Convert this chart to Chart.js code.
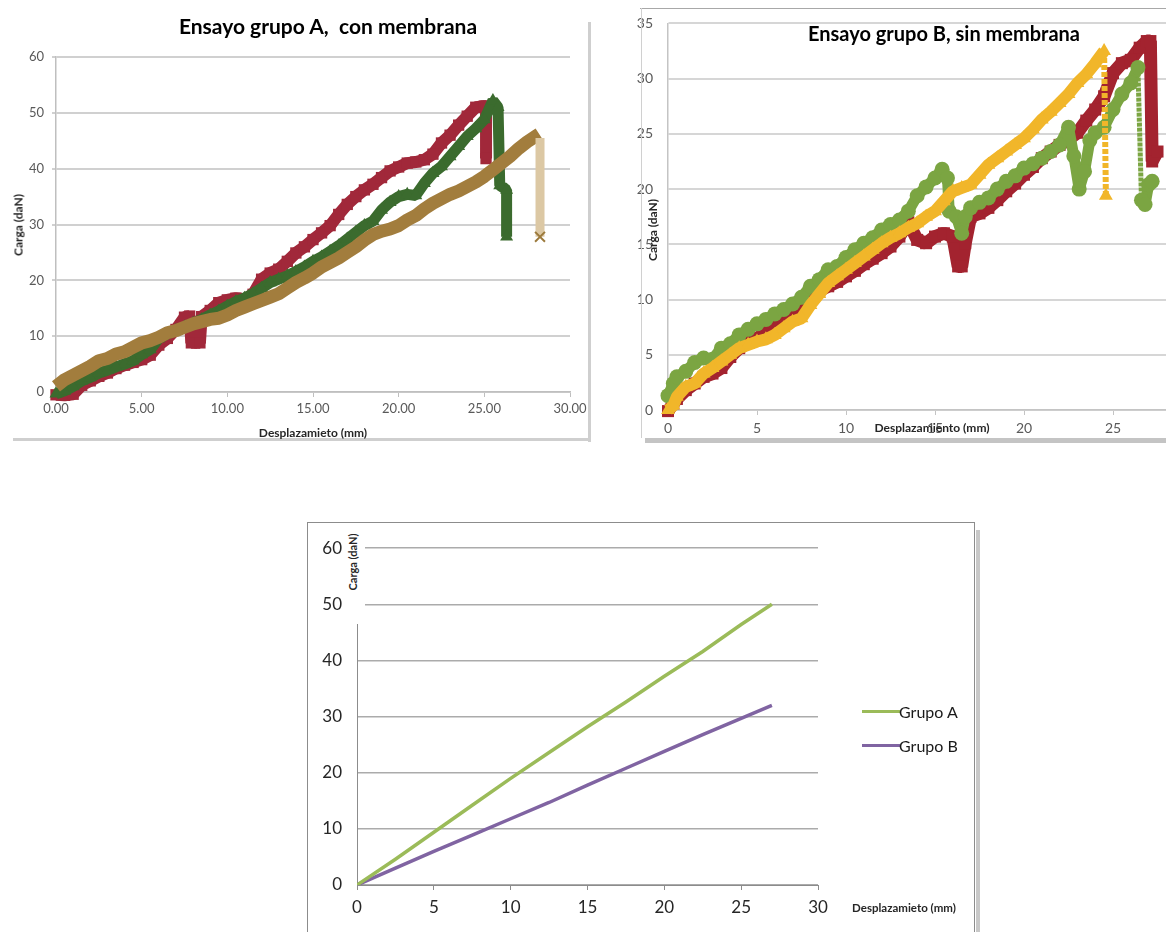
<!DOCTYPE html>
<html lang="es">
<head>
<meta charset="utf-8">
<title>Ensayos grupo A y B</title>
<script src="https://cdn.jsdelivr.net/npm/chart.js@4.4.1/dist/chart.umd.min.js"></script>
<style>
  body { margin: 0; width: 1166px; height: 932px; overflow: hidden; background: #fff; position: relative; font-family: Lato, "Open Sans", sans-serif; }
  .abs { position: absolute; }
  .txt { position: absolute; white-space: pre; transform: translate(-50%, -50%); color: #000; }
  .ltxt { position: absolute; white-space: pre; transform: translate(0, -50%); color: #1a1a1a; font-size: 16px; }
  .vtxt { position: absolute; white-space: pre; transform: translate(-50%, -50%) rotate(-90deg); font-weight: bold; font-size: 12px; color: #262626; }
  .title { font-weight: bold; font-size: 21px; }
  .axt { font-weight: bold; font-size: 12px; color: #262626; }
</style>
</head>
<body>

<!-- Ensayo grupo A -->
<div class="abs" style="left:0;top:0;width:600px;height:450px"><canvas id="chartA"></canvas></div>
<div class="abs" style="left:588px;top:22px;width:3px;height:420px;background:#cfcfcf"></div>
<div class="abs" style="left:13px;top:438px;width:578px;height:3px;background:#cfcfcf"></div>
<div class="txt title" style="left:328px;top:25px">Ensayo grupo A,  con membrana</div>
<div class="txt axt" style="left:313px;top:432px">Desplazamieto (mm)</div>
<div class="vtxt" style="left:18px;top:225px">Carga (daN)</div>

<!-- Ensayo grupo B -->
<div class="abs" style="left:620px;top:0;width:600px;height:450px"><canvas id="chartB"></canvas></div>
<div class="abs" style="left:640px;top:8px;width:526px;height:1px;background:#a8a8a8"></div>
<div class="abs" style="left:641px;top:8px;width:1px;height:430px;background:#d0d0d0"></div>
<div class="abs" style="left:645px;top:438px;width:521px;height:5px;background:#c4c4c4"></div>
<div class="txt title" style="left:944px;top:33px;font-size:20px">Ensayo grupo B, sin membrana</div>
<div class="txt axt" style="left:932px;top:427px">Desplazamiento (mm)</div>
<div class="vtxt" style="left:652px;top:230px">Carga (daN)</div>

<!-- Comparacion grupo A / grupo B -->
<div class="abs" style="left:307px;top:522px;width:668px;height:420px;border:1px solid #8c8c8c;box-sizing:border-box"></div>
<div class="abs" style="left:976px;top:530px;width:4px;height:402px;background:#c8c8c8"></div>
<div class="abs" style="left:308px;top:523px;width:666px;height:409px"><canvas id="chartC"></canvas></div>
<div class="abs" style="left:342px;top:524px;width:23px;height:100px;background:#fff"></div>
<div class="vtxt" style="left:352px;top:562px;font-size:11px">Carga (daN)</div>
<div class="txt axt" style="left:904px;top:907px;font-size:11.5px">Desplazamieto (mm)</div>
<div class="abs" style="left:862px;top:710px;width:38px;height:3px;background:#9bbb59"></div>
<div class="ltxt" style="left:899px;top:711px">Grupo A</div>
<div class="abs" style="left:862px;top:744px;width:38px;height:3px;background:#8064a2"></div>
<div class="ltxt" style="left:899px;top:745px">Grupo B</div>

<script>
// ---- Ensayo grupo A, con membrana ----
const redAX = [0, 0.5, 1.0, 1.5, 2.0, 2.5, 3.0, 3.5, 4.0, 4.5, 5.0, 5.5, 6.0, 6.5, 7.0, 7.5, 7.8, 7.9, 8.4, 8.5,
  9.0, 9.5, 10.0, 10.5, 11.0, 11.5, 12.0, 12.5, 13.0, 13.5, 14.0, 14.5, 15.0, 15.5, 16.0, 16.5, 17.0, 17.5, 18.0, 18.5,
  19.0, 19.5, 20.0, 20.5, 21.0, 21.5, 22.0, 22.5, 23.0, 23.5, 24.0, 24.5, 25.0, 25.1, 25.1];
const redAY = [-0.5, -0.6, -0.4, 1.2, 2.0, 2.8, 3.4, 4.2, 4.8, 5.3, 5.8, 6.6, 8.4, 9.6, 11.2, 13.4, 13.6, 8.8, 8.8, 13.5,
  14.6, 16.0, 16.5, 16.8, 16.6, 17.5, 20.2, 21.3, 22.0, 23.4, 24.9, 26.0, 27.3, 28.5, 29.8, 31.8, 33.6, 35.0, 36.2, 37.2,
  38.4, 39.6, 40.3, 41.0, 41.2, 41.6, 42.6, 44.6, 46.0, 47.8, 49.4, 51.0, 51.2, 51.2, 41.8];

const greenAX = [0, 0.5, 1.0, 1.5, 2.0, 2.5, 3.0, 3.5, 4.0, 4.5, 5.0, 5.5, 6.0, 6.5, 7.0, 7.5, 8.0, 8.5, 9.0, 9.5,
  10.0, 10.5, 11.0, 11.5, 12.0, 12.5, 13.0, 13.5, 14.0, 14.5, 15.0, 15.5, 16.0, 16.5, 17.0, 17.5, 18.0, 18.5, 19.0, 19.5,
  20.0, 20.5, 21.0, 21.5, 22.0, 22.5, 23.0, 23.5, 24.0, 24.5, 25.0, 25.5, 25.8, 25.9, 26.3, 26.3];
const greenAY = [-0.3, 0.2, 1.0, 2.0, 2.6, 3.4, 3.9, 4.5, 5.0, 5.6, 6.7, 7.6, 9.6, 10.4, 11.0, 11.7, 12.3, 13.0, 13.8, 14.5,
  15.4, 16.2, 16.8, 17.6, 18.6, 19.6, 20.2, 20.8, 21.6, 22.4, 23.4, 24.2, 25.2, 26.2, 27.4, 28.6, 29.8, 30.6, 32.6, 34.0,
  35.0, 35.4, 35.2, 37.4, 39.2, 40.4, 42.2, 44.0, 45.8, 47.2, 48.8, 52.2, 51.0, 37.0, 36.2, 27.8];

const brownAX = [0, 0.5, 1.0, 1.5, 2.0, 2.5, 3.0, 3.5, 4.0, 4.5, 5.0, 5.5, 6.0, 6.5, 7.0, 7.5, 8.0, 8.5, 9.0, 9.5,
  10.0, 10.5, 11.0, 11.5, 12.0, 12.5, 13.0, 13.5, 14.0, 14.5, 15.0, 15.5, 16.0, 16.5, 17.0, 17.5, 18.0, 18.5, 19.0, 19.5,
  20.0, 20.5, 21.0, 21.5, 22.0, 22.5, 23.0, 23.5, 24.0, 24.5, 25.0, 25.5, 26.0, 26.5, 27.0, 27.5, 28.0, 28.2];
const brownAY = [1.0, 2.2, 3.0, 3.8, 4.6, 5.6, 6.0, 6.8, 7.2, 8.0, 8.8, 9.2, 9.8, 10.6, 11.0, 11.6, 12.2, 12.6, 13.0, 13.2,
  13.8, 14.6, 15.2, 15.8, 16.4, 17.0, 17.6, 18.6, 19.6, 20.4, 21.3, 22.4, 23.2, 24.0, 25.0, 26.0, 27.2, 28.2, 28.8, 29.2,
  29.8, 30.8, 31.6, 32.8, 33.8, 34.6, 35.4, 36.0, 36.8, 37.6, 38.6, 39.8, 41.0, 42.2, 43.6, 44.8, 45.8, 46.2];
const brownDropX = [28.25, 28.25];
const brownDropY = [45.5, 27.8];

// ---- Ensayo grupo B, sin membrana ----
const greenBX = [0, 0.3, 0.5, 1.0, 1.5, 2.0, 2.5, 3.0, 3.5, 4.0, 4.5, 5.0, 5.5, 6.0, 6.5, 7.0, 7.5, 8.0, 8.5, 9.0,
  9.5, 10.0, 10.5, 11.0, 11.5, 12.0, 12.5, 13.0, 13.5, 14.0, 14.5, 15.0, 15.4, 15.7, 15.8, 16.2, 16.5, 16.7, 17.0, 17.5,
  18.0, 18.5, 19.0, 19.5, 20.0, 20.5, 21.0, 21.5, 22.0, 22.5, 22.8, 23.1, 23.4, 23.7, 24.0, 24.5, 25.0, 25.5, 26.0, 26.4,
  26.6, 26.8, 27.0, 27.2];
const greenBY = [1.3, 2.4, 3.0, 3.5, 4.3, 4.7, 4.6, 5.6, 6.0, 6.8, 7.3, 7.8, 8.2, 8.7, 9.1, 9.6, 10.2, 11.2, 11.8, 12.7,
  13.0, 13.8, 14.5, 15.1, 15.6, 16.3, 16.8, 17.2, 18.0, 19.4, 20.2, 21.0, 21.8, 21.0, 18.0, 17.5, 16.0, 17.5, 18.3, 18.8,
  19.2, 20.0, 20.7, 21.2, 21.9, 22.3, 22.8, 23.4, 24.0, 25.6, 23.0, 20.0, 21.6, 24.4, 25.1, 25.6, 27.2, 28.6, 29.6, 31.0,
  19.0, 18.6, 20.4, 20.7];

const yellowBX = [0, 0.3, 0.5, 1.0, 1.5, 2.0, 2.5, 3.0, 3.5, 4.0, 4.5, 5.0, 5.5, 6.0, 6.5, 7.0, 7.5, 8.0, 8.5, 9.0,
  9.5, 10.0, 10.5, 11.0, 11.5, 12.0, 12.5, 13.0, 13.5, 14.0, 14.5, 15.0, 15.5, 16.0, 16.5, 17.0, 17.5, 18.0, 18.5, 19.0,
  19.5, 20.0, 20.5, 21.0, 21.5, 22.0, 22.5, 23.0, 23.5, 24.0, 24.5, 24.6];
const yellowBY = [0.0, 0.4, 1.2, 2.1, 2.4, 3.3, 3.8, 4.4, 5.0, 5.6, 5.9, 6.2, 6.4, 6.8, 7.4, 8.0, 8.3, 9.5, 10.5, 11.5,
  12.1, 12.7, 13.3, 13.9, 14.5, 15.1, 15.6, 16.0, 16.5, 16.9, 17.5, 18.0, 18.9, 19.8, 20.1, 20.4, 21.3, 22.2, 22.8, 23.4,
  24.0, 24.6, 25.4, 26.3, 27.0, 27.8, 28.6, 29.6, 30.4, 31.4, 32.5, 19.4];

const redBX = [0, 0.3, 0.5, 1.0, 1.5, 2.0, 2.5, 3.0, 3.5, 4.0, 4.5, 5.0, 5.5, 6.0, 6.5, 7.0, 7.5, 8.0, 8.5, 9.0,
  9.5, 10.0, 10.5, 11.0, 11.5, 12.0, 12.5, 13.0, 13.5, 14.0, 14.5, 15.0, 15.5, 16.0, 16.3, 16.5, 16.7, 17.0, 17.5, 18.0,
  18.5, 19.0, 19.5, 20.0, 20.5, 21.0, 21.5, 22.0, 22.5, 23.0, 23.5, 24.0, 24.5, 25.0, 25.5, 26.0, 26.5, 26.9, 27.1, 27.2,
  27.5];
const redBY = [-0.1, 0.6, 1.0, 1.8, 2.4, 3.0, 3.3, 3.8, 4.8, 5.6, 6.1, 6.5, 7.0, 7.5, 8.1, 8.7, 9.4, 10.4, 10.8, 11.2,
  11.6, 12.1, 12.6, 13.2, 13.7, 14.2, 14.8, 15.7, 17.0, 15.4, 15.1, 15.7, 16.0, 15.7, 13.0, 13.0, 15.1, 17.5, 17.8, 18.3,
  19.0, 19.8, 20.5, 21.3, 22.0, 22.8, 23.4, 24.0, 24.5, 25.1, 26.2, 27.2, 28.4, 30.5, 31.4, 31.7, 32.8, 33.4, 33.4, 22.5,
  23.4];

// ---- Comparacion (rectas medias) ----
const grupoX = [0, 2.5, 5, 7.5, 10, 12.5, 15, 17.5, 20, 22.5, 25, 27];
const grupoAY = [0, 4.6, 9.4, 14.2, 19.0, 23.6, 28.2, 32.6, 37.2, 41.6, 46.4, 50.0];
const grupoBY = [0, 3.0, 6.0, 8.9, 11.8, 14.7, 17.8, 20.8, 23.8, 26.8, 29.7, 32.0];

function toPoints(xs, ys) {
    return xs.map((x, i) => ({ x: x, y: ys[i] }));
}

// thick band made of markers, like the Excel scatter series
function band(label, xs, ys, color, style, width) {
    return {
        label: label,
        data: toPoints(xs, ys),
        showLine: true,
        borderColor: color,
        backgroundColor: color,
        borderWidth: width,
        borderJoinStyle: 'bevel',
        pointStyle: style,
        pointRadius: width / 2 + 2,
        pointBorderWidth: 0,
        clip: false
    };
}

// the failure drops of group B are drawn thinner and broken, as in the original
function thinDrop(width, dash) {
    return {
        borderWidth: ctx => (ctx.p1.parsed.y < ctx.p0.parsed.y - 6 ? width : undefined),
        borderDash: ctx => (ctx.p1.parsed.y < ctx.p0.parsed.y - 6 ? dash : undefined)
    };
}

const tickFont = (size) => ({ family: 'Lato', size: size });

// Grupo A
new Chart(document.getElementById('chartA'), {
    type: 'scatter',
    data: {
        datasets: [
            {
                label: 'rotura',
                data: toPoints(brownDropX, brownDropY),
                showLine: true,
                borderColor: '#dcc8a4',
                borderWidth: 9,
                pointStyle: 'crossRot',
                pointRadius: [0, 7],
                pointBorderColor: '#9c7a3c',
                pointBorderWidth: 2,
                clip: false
            },
            band('Probeta 3', brownAX, brownAY, '#a27d3d', 'crossRot', 13),
            band('Probeta 2', greenAX, greenAY, '#3b6b2e', 'triangle', 11),
            band('Probeta 1', redAX, redAY, '#a1283a', 'rect', 12)
        ]
    },
    options: {
        responsive: true,
        maintainAspectRatio: false,
        animation: false,
        layout: { padding: { top: 57, right: 30, bottom: 0, left: 0 } },
        plugins: { legend: { display: false }, tooltip: { enabled: false } },
        scales: {
            x: {
                type: 'linear', min: 0, max: 30,
                ticks: { stepSize: 5, callback: v => v.toFixed(2), color: '#595959', font: tickFont(13), padding: 4, maxRotation: 0 },
                grid: { drawOnChartArea: false, tickLength: 5, tickColor: '#bfbfbf' },
                border: { color: '#bfbfbf', width: 1.5 },
                afterFit: s => { s.height = 58; }
            },
            y: {
                min: 0, max: 60,
                ticks: { stepSize: 10, color: '#595959', font: tickFont(13), padding: 8 },
                grid: { color: '#d0d0d0', lineWidth: 2, tickLength: 4 },
                border: { color: '#bfbfbf', width: 1.5 },
                afterFit: s => { s.width = 56; }
            }
        }
    }
});

// Grupo B
const yellowB = band('Probeta 3', yellowBX, yellowBY, '#f1b62a', 'triangle', 12);
yellowB.segment = thinDrop(6, [5, 2]);
const greenB = band('Probeta 2', greenBX, greenBY, '#7ba542', 'circle', 11);
greenB.segment = thinDrop(5, [4, 1]);

new Chart(document.getElementById('chartB'), {
    type: 'scatter',
    data: {
        datasets: [
            yellowB,
            greenB,
            band('Probeta 1', redBX, redBY, '#a3232f', 'rect', 13)
        ]
    },
    options: {
        responsive: true,
        maintainAspectRatio: false,
        animation: false,
        layout: { padding: { top: 16, right: 18, bottom: 0, left: 0 } },
        plugins: { legend: { display: false }, tooltip: { enabled: false } },
        scales: {
            x: {
                type: 'linear', min: 0, max: 30,
                ticks: { stepSize: 5, color: '#5a5a5a', font: tickFont(14), padding: 5, maxRotation: 0 },
                grid: { drawOnChartArea: false, tickLength: 5, tickColor: '#c4c4c4' },
                border: { color: '#c4c4c4', width: 1.5 },
                afterFit: s => { s.height = 40; }
            },
            y: {
                min: 0, max: 35,
                ticks: { stepSize: 5, color: '#5a5a5a', font: tickFont(14), padding: 15 },
                grid: { color: '#d6d6d6', lineWidth: 2, drawTicks: false },
                border: { color: '#c4c4c4', width: 1.5 },
                afterFit: s => { s.width = 48; }
            }
        }
    }
});

// Grupo A vs Grupo B
new Chart(document.getElementById('chartC'), {
    type: 'scatter',
    data: {
        datasets: [
            { label: 'Grupo A', data: toPoints(grupoX, grupoAY), showLine: true, borderColor: '#9bbb59', borderWidth: 3.5, pointRadius: 0 },
            { label: 'Grupo B', data: toPoints(grupoX, grupoBY), showLine: true, borderColor: '#8064a2', borderWidth: 3.5, pointRadius: 0 }
        ]
    },
    options: {
        responsive: true,
        maintainAspectRatio: false,
        animation: false,
        layout: { padding: { top: 20, right: 156, bottom: 0, left: 0 } },
        plugins: { legend: { display: false }, tooltip: { enabled: false } },
        scales: {
            x: {
                type: 'linear', min: 0, max: 30,
                ticks: { stepSize: 5, color: '#262626', font: tickFont(17), padding: 7, maxRotation: 0 },
                grid: { drawOnChartArea: false, tickLength: 5, tickColor: '#8c8c8c' },
                border: { color: '#8c8c8c', width: 1 },
                afterFit: s => { s.height = 47; }
            },
            y: {
                min: 0, max: 60,
                ticks: { stepSize: 10, color: '#262626', font: tickFont(17), padding: 15 },
                grid: { color: '#ababab', lineWidth: 1.5, drawTicks: false },
                border: { color: '#8c8c8c', width: 1 },
                afterFit: s => { s.width = 49; }
            }
        }
    }
});
</script>
</body>
</html>
